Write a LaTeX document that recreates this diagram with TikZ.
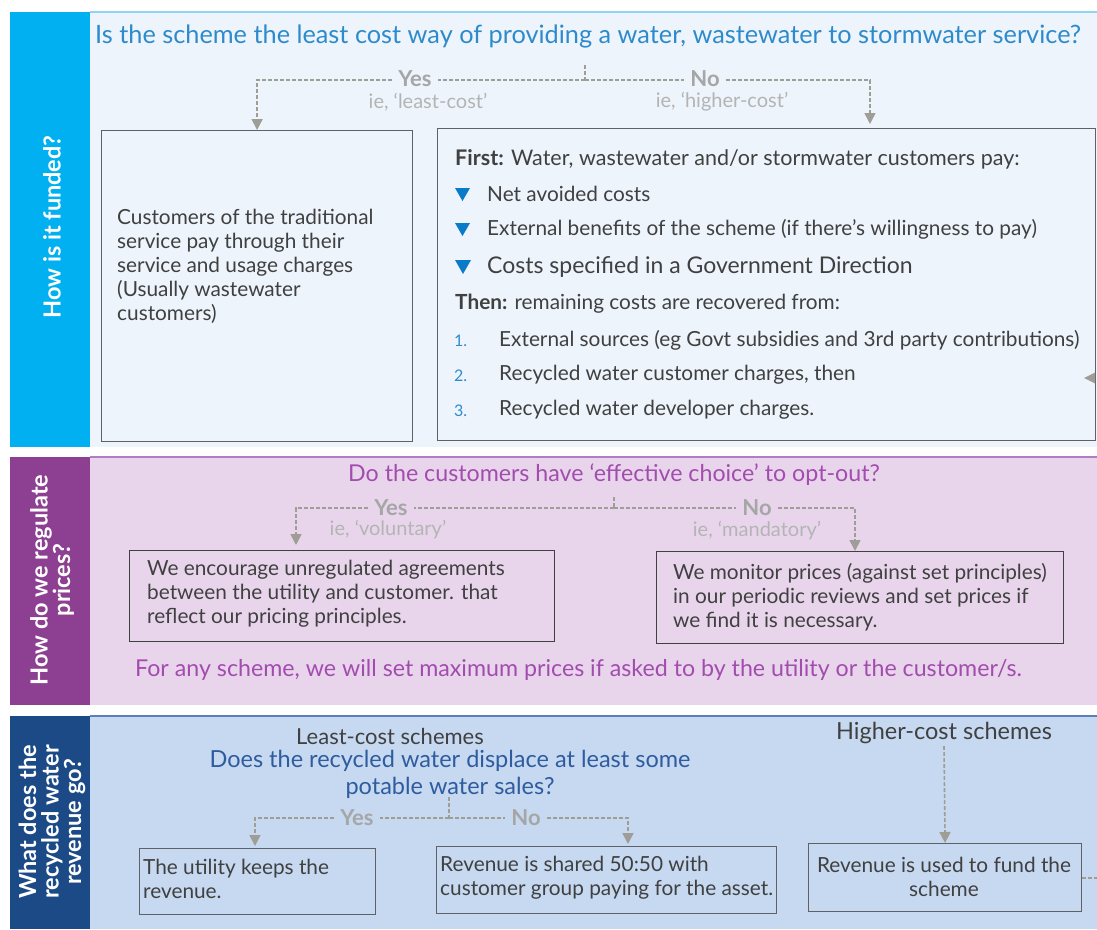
\documentclass[tikz,border=0pt]{standalone}
\usepackage{fontspec}
\setmainfont{Lato}
\usetikzlibrary{arrows.meta}
\definecolor{barA}{HTML}{00B0F0}
\definecolor{bgA}{HTML}{EDF4FC}
\definecolor{lineA}{HTML}{8FD3F5}
\definecolor{qA}{HTML}{2E8BCB}
\definecolor{barB}{HTML}{8D3F92}
\definecolor{bgB}{HTML}{E8D5EC}
\definecolor{lineB}{HTML}{B47CC0}
\definecolor{qB}{HTML}{A24CAE}
\definecolor{barC}{HTML}{1C4A87}
\definecolor{bgC}{HTML}{C6D9F1}
\definecolor{lineC}{HTML}{5B80B8}
\definecolor{qC}{HTML}{2E5C9E}
\definecolor{arrgrey}{HTML}{9E9D96}
\definecolor{yngrey}{HTML}{A6A6A6}
\definecolor{iegrey}{HTML}{B4B4B4}
\definecolor{boxgrey}{HTML}{5F6166}
\definecolor{txt}{HTML}{404040}
\definecolor{bullet}{HTML}{0A7BC8}
\definecolor{numblue}{HTML}{2E8BCF}
\tikzset{
  box/.style={draw=boxgrey, line width=1.2pt, anchor=north west, inner sep=0pt},
  body/.style={text=txt, font=\fontsize{20.8}{24}\selectfont, inner sep=0pt, align=left, anchor=west},
  dline/.style={draw=arrgrey, dash pattern=on 4pt off 2pt, line width=1.6pt},
  arr/.style={dline, -{Triangle[width=11pt,length=11pt]}},
  yn/.style={text=yngrey, font=\bfseries\fontsize{22}{24}\selectfont, inner xsep=6pt, inner ysep=0pt},
  ie/.style={text=iegrey, font=\fontsize{20}{22}\selectfont, inner sep=0pt},
  side/.style={text=white, font=\bfseries\fontsize{23.5}{22.5}\selectfont, rotate=90, align=center, inner sep=0pt}
}
\begin{document}
\begin{tikzpicture}[x=1pt,y=-1pt]
\useasboundingbox (0,0) rectangle (1097,929);
\fill[white] (0,0) rectangle (1097,929);
% ---------------- panel A
\fill[barA] (10,12) rectangle (90,447);
\fill[bgA] (90,12) rectangle (1097,447);
\draw[lineA, line width=1.2pt] (90,12) -- (1097,12);
\node[side] (sA) at (52,227) {How is it funded?};
\node[text=qA, font=\fontsize{25.3}{28}\selectfont, anchor=base west, inner sep=0pt] (qA) at (95,43) {Is the scheme the least cost way of providing a water, wastewater to stormwater service?};
\coordinate (jAtop) at (585,65);
\coordinate (jA) at (585,80);
\coordinate (aAr) at (870,124);
\node[yn] (yesA) at (415,79) {Yes};
\node[yn] (noA) at (705,79) {No};
\node[ie] (ieA1) at (428,102) {ie, ‘least-cost’};
\node[ie] (ieA2) at (722,102) {ie, ‘higher-cost’};
\node[box, minimum width=311pt, minimum height=311pt] (bAl) at (101,130) {};
\node[box, minimum width=658pt, minimum height=312pt] (bAr) at (437,128) {};
\draw[dline] (jAtop) -- (jA);
\draw[dline] (jA) -- (yesA.east |- jA);
\draw[dline] (jA) -- (noA.west |- jA);
\draw[arr] (yesA.west |- jA) -| (bAl.north);
\draw[arr] (noA.east |- jA) -| (aAr);
\node[body] (tAl) at (117,266) {Customers of the traditional\\service pay through their\\service and usage charges\\(Usually wastewater\\customers)};
\node[body, font=\fontsize{21.5}{24}\selectfont] (f1) at (455,159) {\textbf{First:} Water, wastewater and/or stormwater customers pay:};
\fill[bullet] (455,188) -- (470,188) -- (462.5,201) -- cycle;
\fill[bullet] (455,223) -- (470,223) -- (462.5,236) -- cycle;
\fill[bullet] (455,260) -- (471,260) -- (463,274) -- cycle;
\node[body] (f2) at (487,194) {Net avoided costs};
\node[body] (f3) at (487,229) {External benefits of the scheme (if there’s willingness to pay)};
\node[body, font=\fontsize{23}{26}\selectfont] (f4) at (487,267) {Costs specified in a Government Direction};
\node[body] (f5) at (455,304) {\textbf{Then:} remaining costs are recovered from:};
\node[body, text=numblue, font=\fontsize{16}{18}\selectfont] (n1) at (454,341) {1.};
\node[body, text=numblue, font=\fontsize{16}{18}\selectfont] (n2) at (454,376) {2.};
\node[body, text=numblue, font=\fontsize{16}{18}\selectfont] (n3) at (454,411) {3.};
\node[body] (f6) at (499,340) {External sources (eg Govt subsidies and 3rd party contributions)};
\node[body] (f7) at (499,375) {Recycled water customer charges, then};
\node[body] (f8) at (499,410) {Recycled water developer charges.};
\fill[arrgrey] (1084,378) -- (1095,372.5) -- (1095,383.5) -- cycle;
% ---------------- panel B
\fill[barB] (10,457) rectangle (90,705);
\fill[bgB] (90,457) rectangle (1097,705);
\draw[lineB, line width=1.2pt] (90,457) -- (1097,457);
\node[side] (sB) at (52,580) {How do we regulate\\prices?};
\node[text=qB, font=\fontsize{23.2}{26}\selectfont, inner sep=0pt] (qB) at (614,475) {Do the customers have ‘effective choice’ to opt-out?};
\coordinate (jBtop) at (614,497);
\coordinate (jB) at (614,508);
\coordinate (aBr) at (855,551);
\coordinate (aBl) at (296,545);
\node[yn] (yesB) at (391,508) {Yes};
\node[yn] (noB) at (757,508) {No};
\node[ie] (ieB1) at (388,530) {ie, ‘voluntary’};
\node[ie] (ieB2) at (757,531) {ie, ‘mandatory’};
\node[box, draw=txt, minimum width=425pt, minimum height=91pt] (bBl) at (129,550) {};
\node[box, draw=txt, minimum width=407pt, minimum height=92pt] (bBr) at (656,551) {};
\draw[dline] (jBtop) -- (jB);
\draw[dline] (jB) -- (yesB.east |- jB);
\draw[dline] (jB) -- (noB.west |- jB);
\draw[arr] (yesB.west |- jB) -| (aBl);
\draw[arr] (noB.east |- jB) -| (aBr);
\node[body] (tBl) at (147,594) {We encourage unregulated agreements\\between the utility and customer. that\\reflect our pricing principles.};
\node[body] (tBr) at (673,597) {We monitor prices (against set principles)\\in our periodic reviews and set prices if\\we find it is necessary.};
\node[text=qB, font=\fontsize{23.2}{26}\selectfont, anchor=west, inner sep=0pt] (fB) at (135,670) {For any scheme, we will set maximum prices if asked to by the utility or the customer/s.};
% ---------------- panel C
\fill[barC] (10,716) rectangle (90,929);
\fill[bgC] (90,716) rectangle (1097,929);
\draw[lineC, line width=1.2pt] (90,716) -- (1097,716);
\node[side] (sC) at (52,822) {What does the\\recycled water\\revenue go?};
\node[text=txt, font=\fontsize{22}{24}\selectfont, inner sep=0pt] (lc) at (390,736) {Least-cost schemes};
\node[text=qC, font=\fontsize{23.5}{27}\selectfont, inner sep=0pt, align=center] (qC) at (450,774) {Does the recycled water displace at least some\\potable water sales?};
\node[text=txt, font=\fontsize{23.5}{26}\selectfont, inner sep=0pt] (hc) at (944,733) {Higher-cost schemes};
\coordinate (jCtop) at (449,797);
\coordinate (jC) at (449,818);
\node[yn] (yesC) at (357,818) {Yes};
\node[yn] (noC) at (526,818) {No};
\node[box, minimum width=236pt, minimum height=66pt] (bCl) at (139,848) {};
\node[box, minimum width=340pt, minimum height=67pt] (bCm) at (436,846) {};
\node[box, minimum width=273pt, minimum height=68pt] (bCr) at (808,843) {};
\coordinate (aCl) at (255,846);
\coordinate (aCm) at (628,844);
\coordinate (hcb) at (944,746);
\coordinate (stub) at (1097,878);
\draw[dline] (jCtop) -- (jC);
\draw[dline] (jC) -- (yesC.east |- jC);
\draw[dline] (jC) -- (noC.west |- jC);
\draw[arr] (yesC.west |- jC) -| (aCl);
\draw[arr] (noC.east |- jC) -| (aCm);
\draw[arr] (hcb) -- (bCr.north);
\draw[dline] (bCr.east |- stub) -- (stub);
\node[body] (tCl) at (143,879) {The utility keeps the\\revenue.};
\node[body] (tCm) at (440,878) {Revenue is shared 50:50 with\\customer group paying for the asset.};
\node[body, align=center, anchor=center] (tCr) at (944,877) {Revenue is used to fund the\\scheme};
\end{tikzpicture}
\end{document}
